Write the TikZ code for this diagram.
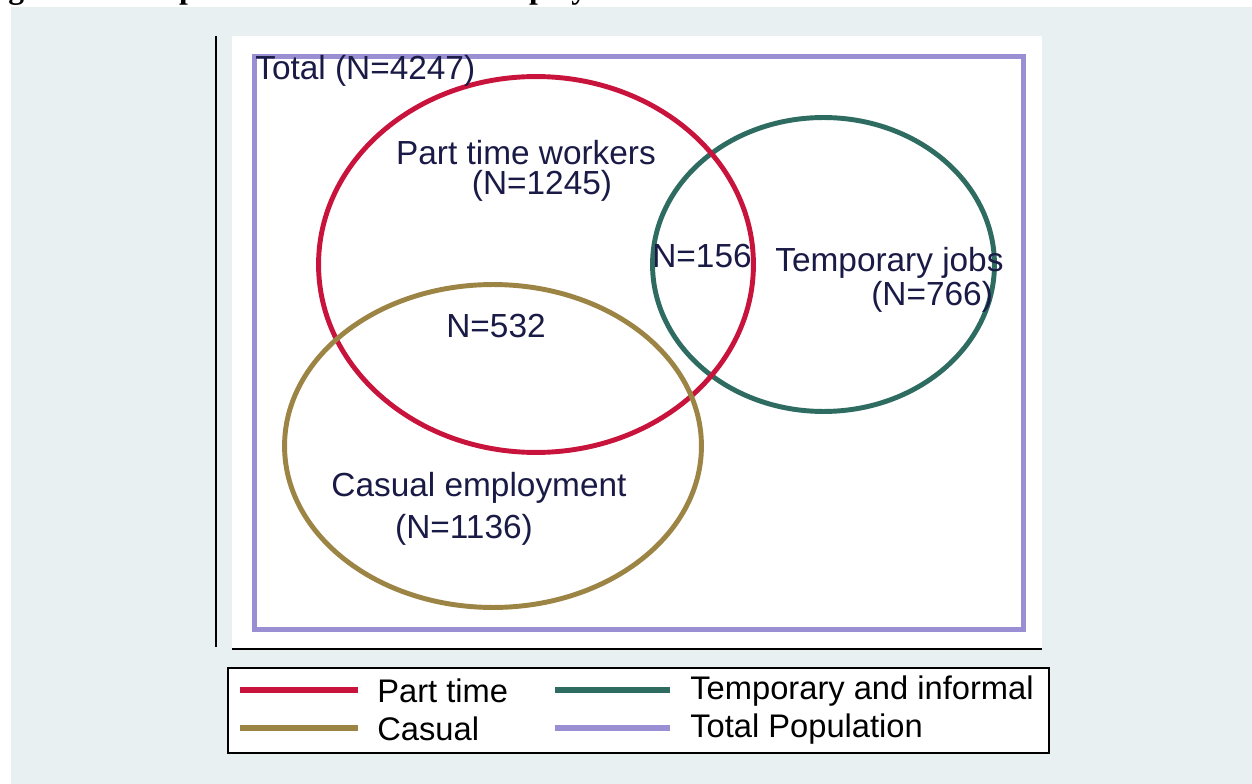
\documentclass[tikz,border=0pt]{standalone}
\usepackage{fontspec}
\setmainfont{Liberation Sans}
\newfontfamily\capfont{Liberation Serif}
\usetikzlibrary{shapes.geometric}
\definecolor{panelbg}{HTML}{E9F0F2}
\definecolor{parttime}{HTML}{C8143C}
\definecolor{temporary}{HTML}{2E6B60}
\definecolor{casual}{HTML}{9C8445}
\definecolor{totalpop}{HTML}{9A8FD2}
\definecolor{labelink}{HTML}{1A1A46}
\tikzset{
  setring/.style={ellipse, draw, line width=2.8pt, inner sep=0pt, outer sep=0pt},
  vlabel/.style={font=\fontsize{19}{21}\selectfont, text=labelink, inner sep=0pt},
  leglabel/.style={font=\fontsize{18.6}{21}\selectfont, text=black, inner sep=0pt, anchor=west},
  legline/.style={line width=3.4pt},
  axisline/.style={line width=1.1pt, black}
}
\begin{document}
\begin{tikzpicture}[x=0.02cm, y=-0.02cm]
\useasboundingbox (0,0) rectangle (1252,784);
\clip (0,0) rectangle (1252,784);
% caption line, mostly above the page edge
\node[font=\capfont\bfseries\fontsize{18}{20}\selectfont, anchor=base west, inner sep=0pt] (caption) at (-20,-1) {Figure 3: Composition of Precarious Employment};
% panel background and plot region
\fill[panelbg] (11,7) rectangle (1252,784);
\fill[white] (232,36) rectangle (1042,648);
% axes
\coordinate (ytop) at (216,36);
\coordinate (ybot) at (216,647);
\coordinate (xl) at (232,649);
\coordinate (xr) at (1042,649);
\draw[axisline] (ytop) -- (ybot);
\draw[axisline] (xl) -- (xr);
% total population frame
\node[draw=totalpop, line width=2.8pt, minimum width=15.38cm, minimum height=11.46cm, inner sep=0pt] (total) at (639,343) {};
% sets
\node[setring, draw=temporary, minimum width=6.84cm, minimum height=5.88cm] (temp) at (823.5,264.5) {};
\node[setring, draw=parttime, minimum width=8.7cm, minimum height=7.52cm] (part) at (536,264.5) {};
\node[setring, draw=casual, minimum width=8.34cm, minimum height=6.46cm] (cas) at (493,446) {};
% labels
\node[vlabel, anchor=west] (ltotal) at (255,71) {Total (N=4247)};
\node[vlabel] (lpart) at (526,153) {Part time workers};
\node[vlabel] (lpartn) at (542,186) {(N=1245)};
\node[vlabel, anchor=west] (l156) at (652,256) {N=156};
\node[vlabel, anchor=west] (ltemp) at (775,263) {Temporary jobs};
\node[vlabel, anchor=west] (ltempn) at (871,297) {(N=766)};
\node[vlabel] (l532) at (496,326) {N=532};
\node[vlabel] (lcas) at (479,488) {Casual employment};
\node[vlabel] (lcasn) at (464,530) {(N=1136)};
% legend
\node[draw=black, fill=white, line width=1.1pt, minimum width=16.42cm, minimum height=1.7cm, inner sep=0pt] (legend) at (638.5,710.5) {};
\coordinate (r1a) at (240,690); \coordinate (r1b) at (358,690);
\coordinate (g1a) at (555,690); \coordinate (g1b) at (670,690);
\coordinate (o1a) at (240,728); \coordinate (o1b) at (358,728);
\coordinate (p1a) at (555,728); \coordinate (p1b) at (670,728);
\draw[legline, parttime] (r1a) -- (r1b);
\draw[legline, temporary] (g1a) -- (g1b);
\draw[legline, casual] (o1a) -- (o1b);
\draw[legline, totalpop] (p1a) -- (p1b);
\node[leglabel] (kpart) at (377,691) {Part time};
\node[leglabel] (ktemp) at (690,691) {Temporary and informal};
\node[leglabel] (kcas) at (377,729) {Casual};
\node[leglabel] (ktot) at (690,729) {Total Population};
\end{tikzpicture}
\end{document}
